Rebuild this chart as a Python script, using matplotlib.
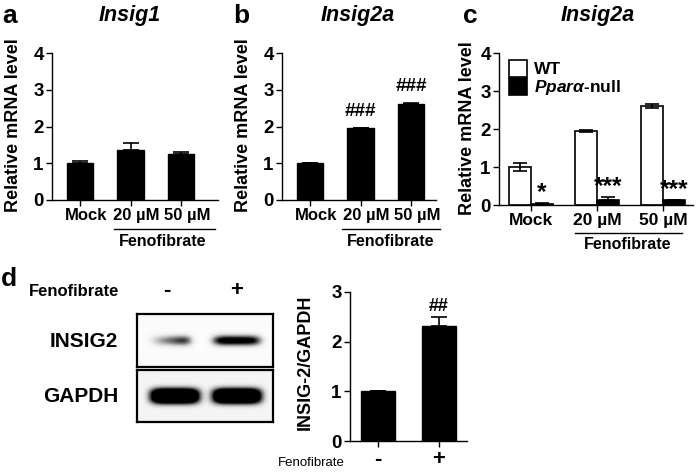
import numpy as np
import matplotlib
matplotlib.use('Agg')
import matplotlib.pyplot as plt
import matplotlib.transforms as mtrans
from matplotlib.patches import Patch
from matplotlib.lines import Line2D

plt.rcParams['font.family'] = ['Liberation Sans', 'DejaVu Sans']
plt.rcParams['font.weight'] = 'bold'
plt.rcParams['mathtext.fontset'] = 'custom'
plt.rcParams['mathtext.it'] = 'Liberation Sans:italic:bold'
plt.rcParams['mathtext.rm'] = 'Liberation Sans:bold'
plt.rcParams['mathtext.bf'] = 'Liberation Sans:bold'

# ---------------- data ----------------
dose_labels = ['Mock', '20 µM', '50 µM']

a_values = [1.00, 1.35, 1.25]
a_errors = [0.05, 0.20, 0.05]

b_values = [1.00, 1.95, 2.60]
b_errors = [0.01, 0.02, 0.05]
b_marks = ['', '###', '###']

c_wt = [1.00, 1.95, 2.60]
c_wt_err = [0.10, 0.03, 0.05]
c_null = [0.03, 0.12, 0.12]
c_null_err = [0.01, 0.08, 0.01]
c_marks = ['*', '***', '***']
c_legend = ['WT', r'$Ppar\alpha$-null']

d_labels = ['-', '+']
d_values = [1.00, 2.32]
d_errors = [0.01, 0.17]
d_marks = ['', '##']

blot_rows = ['INSIG2', 'GAPDH']
blot_lanes = ['-', '+']
insig2_band_left = [0.20, 1.25]   # relative band darkness (left part of lane)
insig2_band_right = [1.05, 1.15]  # (right part of lane)
gapdh_band = [1.8, 1.8]

W, H = 700, 472
fig = plt.figure(figsize=(W / 100, H / 100), dpi=100)


def px_axes(x0, y0, x1, y1):
    return fig.add_axes([x0 / W, 1 - y1 / H, (x1 - x0) / W, (y1 - y0) / H])


def ftext(x, y, s, **kw):
    kw.setdefault('ha', 'center')
    kw.setdefault('va', 'center')
    return fig.text(x / W, 1 - y / H, s, **kw)


def fline(x0, x1, y, lw=1.0):
    fig.add_artist(Line2D([x0 / W, x1 / W], [1 - y / H, 1 - y / H],
                          transform=fig.transFigure, color='black', lw=lw))


def style(ax, ymax, x0px, c0px, spacing, x1px):
    for s in ['top', 'right']:
        ax.spines[s].set_visible(False)
    for s in ['left', 'bottom']:
        ax.spines[s].set_linewidth(1.0)
    ax.set_ylim(0, ymax)
    ax.set_yticks(range(ymax + 1))
    ax.set_xlim((x0px - c0px) / spacing, (x1px - c0px) / spacing)
    ax.tick_params(axis='both', direction='out', length=4, width=1.0,
                   labelsize=13.5, pad=2)
    for lab in ax.get_yticklabels():
        lab.set_fontweight('bold')


def shift_xlabels(ax, dx):
    off = mtrans.ScaledTranslation(dx / 100, 0, fig.dpi_scale_trans)
    for lab in ax.get_xticklabels():
        lab.set_transform(lab.get_transform() + off)


# ---------------- panel a ----------------
axa = px_axes(52, 53, 218, 200)
xa = np.arange(len(a_values))
axa.bar(xa, a_values, width=0.52, color='black', edgecolor='black')
axa.errorbar(xa, a_values, yerr=[np.zeros(3), a_errors], fmt='none',
             ecolor='black', elinewidth=1.2, capsize=6, capthick=1.2)
style(axa, 4, 52, 80, 50.5, 218)
axa.set_xticks(xa, dose_labels, fontsize=12, fontweight='bold')
shift_xlabels(axa, 6)

# ---------------- panel b ----------------
axb = px_axes(282, 53, 436, 200)
xb = np.arange(len(b_values))
axb.bar(xb, b_values, width=0.52, color='black', edgecolor='black')
axb.errorbar(xb, b_values, yerr=[np.zeros(3), b_errors], fmt='none',
             ecolor='black', elinewidth=1.2, capsize=6, capthick=1.2)
for x, v, e, m in zip(xb, b_values, b_errors, b_marks):
    if m:
        axb.text(x, v + e + 0.2, m, ha='center', va='bottom',
                 fontsize=13.5, fontweight='bold')
style(axb, 4, 282, 310, 50.5, 436)
axb.set_xticks(xb, dose_labels, fontsize=12, fontweight='bold')
shift_xlabels(axb, 6)

# ---------------- panel c ----------------
axc = px_axes(499, 53, 693, 205)
xc = np.arange(len(c_wt))
bw = 0.335
axc.bar(xc - bw / 2, c_wt, width=bw, color='white', edgecolor='black',
        linewidth=1.2, label=c_legend[0])
axc.bar(xc + bw / 2, c_null, width=bw, color='black', edgecolor='black',
        linewidth=1.2, label=c_legend[1])
axc.errorbar(xc - bw / 2, c_wt, yerr=c_wt_err, fmt='none', ecolor='black',
             elinewidth=1.2, capsize=5, capthick=1.2)
axc.errorbar(xc + bw / 2, c_null, yerr=[np.zeros(3), c_null_err], fmt='none',
             ecolor='black', elinewidth=1.2, capsize=5, capthick=1.2)
for x, v, e, m in zip(xc, c_null, c_null_err, c_marks):
    axc.text(x + bw / 2, v + e - 0.02, m, ha='center', va='bottom',
             fontsize=17.5, fontweight='bold')
style(axc, 4, 499, 531, 66, 693)
axc.set_xticks(xc, dose_labels, fontsize=12.5, fontweight='bold')
handles = [Patch(facecolor='white', edgecolor='black', linewidth=1.2),
           Patch(facecolor='black', edgecolor='black', linewidth=1.2)]
axc.legend(handles, c_legend, loc='upper left', bbox_to_anchor=(0.05, 0.955),
           frameon=False, fontsize=12.5, handlelength=1.05, handleheight=1.1,
           handletextpad=0.4, labelspacing=0.05, borderpad=0, borderaxespad=0)

# ---------------- panel d (bar) ----------------
axd = px_axes(350, 292, 467, 441)
xd = np.arange(len(d_values))
axd.bar(xd, d_values, width=0.55, color='black', edgecolor='black')
axd.errorbar(xd, d_values, yerr=[np.zeros(2), d_errors], fmt='none',
             ecolor='black', elinewidth=1.2, capsize=6, capthick=1.2)
for x, v, e, m in zip(xd, d_values, d_errors, d_marks):
    if m:
        axd.text(x, v + e + 0.05, m, ha='center', va='bottom',
                 fontsize=13, fontweight='bold')
style(axd, 3, 350, 378, 61, 467)
axd.set_xticks(xd, d_labels, fontsize=16, fontweight='bold')

# ---------------- panel d (blots) ----------------
def blot_image(w, h, centers, half_ws, cy, sig, left, right, bg, flat):
    xx, yy = np.meshgrid(np.arange(w) + 0.5, np.arange(h) + 0.5)
    img = np.full((h, w), bg)
    for cx, hw, l, r in zip(centers, half_ws, left, right):
        t = np.clip((xx - (cx - hw)) / (2 * hw), 0, 1)
        amp = l + (r - l) * t
        prof_x = np.exp(-np.abs((xx - cx) / hw) ** 5)
        prof_y = np.exp(-np.abs((yy - cy) / sig) ** flat)
        img = img + amp * prof_x * prof_y
    # soft edge vignette typical of scanned film
    img = img + 0.04 * (np.abs(yy - h / 2) / (h / 2)) ** 2
    return np.clip(img, 0, 1)


for (y0, y1), row, left, right, bg, cy, sig, flat, centers, hws in [
        ((314, 367), blot_rows[0], insig2_band_left, insig2_band_right,
         0.02, 27, 5.0, 2.0, [33, 100], [21, 24]),
        ((370, 422), blot_rows[1], gapdh_band, gapdh_band,
         0.07, 26, 8.0, 2.6, [38, 100], [25, 25])]:
    axbl = px_axes(137, y0, 273, y1)
    img = blot_image(136, y1 - y0, centers, hws, cy, sig, left, right, bg,
                     flat)
    axbl.imshow(img, cmap='Greys', vmin=0, vmax=1, aspect='auto',
                interpolation='bilinear')
    axbl.set_xticks([])
    axbl.set_yticks([])
    for s in axbl.spines.values():
        s.set_linewidth(1.6)
    ftext(118, (y0 + y1) / 2 + 1, row, ha='right', fontsize=15,
          fontweight='bold')

ftext(74, 292, 'Fenofibrate', fontsize=12, fontweight='bold')
ftext(167, 290, blot_lanes[0], fontsize=16, fontweight='bold')
ftext(237, 290, blot_lanes[1], fontsize=16, fontweight='bold')

# ---------------- labels ----------------
ftext(10, 16, 'a', fontsize=19, fontweight='bold')
ftext(241, 16, 'b', fontsize=19, fontweight='bold')
ftext(470, 16, 'c', fontsize=19, fontweight='bold')
ftext(9, 279, 'd', fontsize=19, fontweight='bold')

ftext(130, 16, 'Insig1', fontsize=15.5, fontweight='bold', style='italic')
ftext(358, 16, 'Insig2a', fontsize=15.5, fontweight='bold', style='italic')
ftext(598, 16, 'Insig2a', fontsize=15.5, fontweight='bold', style='italic')

ftext(14, 125, 'Relative mRNA level', rotation=90, fontsize=13,
      fontweight='bold')
ftext(244, 125, 'Relative mRNA level', rotation=90, fontsize=13,
      fontweight='bold')
ftext(468, 128, 'Relative mRNA level', rotation=90, fontsize=13,
      fontweight='bold')
ftext(305, 362, 'INSIG-2/GAPDH', rotation=90, fontsize=13,
      fontweight='bold')

fline(114, 215, 229)
ftext(163, 242, 'Fenofibrate', fontsize=11.5, fontweight='bold')
fline(342, 440, 229)
ftext(391, 242, 'Fenofibrate', fontsize=11.5, fontweight='bold')
fline(575, 682, 233)
ftext(628, 245, 'Fenofibrate', fontsize=11.5, fontweight='bold')

ftext(345, 463, 'Fenofibrate', ha='right', fontsize=9.5, fontweight='normal')

fig.savefig('out.png', dpi=100)
